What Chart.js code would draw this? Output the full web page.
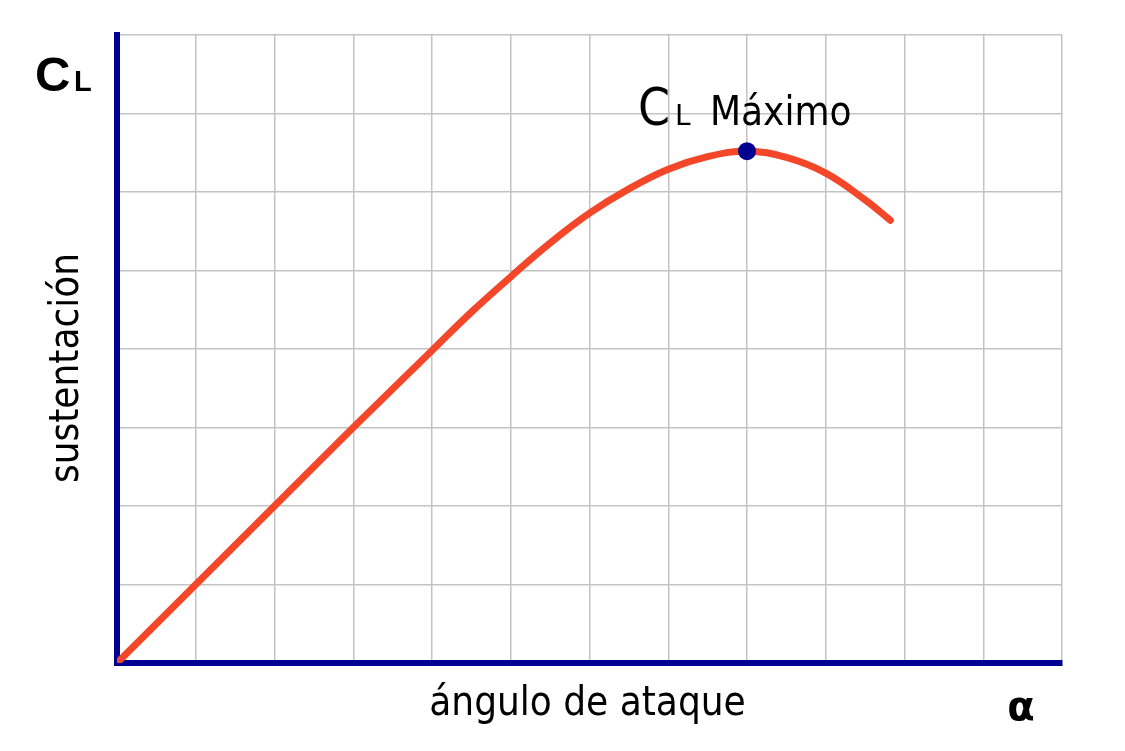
<!DOCTYPE html>
<html>
<head>
<meta charset="utf-8">
<title>CL vs ángulo de ataque</title>
<script src="https://cdn.jsdelivr.net/npm/chart.js@4.4.1/dist/chart.umd.min.js"></script>
<style>
  html, body { margin: 0; padding: 0; background: #ffffff; }
  #displayWindow { display: block; }
</style>
</head>
<body>
<canvas id="displayWindow" width="1125" height="751"></canvas>
<script>
const canvas = document.getElementById('displayWindow').getContext('2d');

// curve (grid units)
const anguloValues = [0, 1, 2, 3, 4, 4.5, 5, 5.5, 6, 6.5, 7, 7.5, 8, 8.5, 9, 9.5, 9.82];
const sustentacionValues = [0, 1, 2, 3, 3.98, 4.47, 4.92, 5.35, 5.73, 6.04, 6.29, 6.45, 6.52, 6.44, 6.24, 5.9, 5.64];

// CL maximo marker
const maximoAngulo = [8];
const maximoValue = [6.52];

const xMax = 12;
const yMax = 8;

const axisBlue = "#000090";
const gridGray = "#c3c3c3";
const curveRed = "#f4472a";

const condensed = '"DejaVu Sans Condensed", "DejaVu Sans", sans-serif';

function toPoints(xs, ys) {
  return xs.map((x, i) => ({ x: x, y: ys[i] }));
}

const labelPlugin = {
  id: 'labelPlugin',
  afterDraw(chart) {
    const ctx = chart.ctx;
    const area = chart.chartArea;
    const xScale = chart.scales.x;
    const yScale = chart.scales.y;

    ctx.save();
    ctx.fillStyle = "#000000";
    ctx.textBaseline = "alphabetic";
    ctx.textAlign = "left";

    // CL at the top of the y axis
    ctx.font = 'bold 49px "Liberation Sans", Arial, sans-serif';
    ctx.fillText("C", area.left - 82, 91);
    ctx.font = 'bold 29px "Liberation Sans", Arial, sans-serif';
    ctx.fillText("L", area.left - 43, 91);

    // y axis title
    ctx.save();
    ctx.translate(area.left - 39, 368);
    ctx.rotate(-Math.PI / 2);
    ctx.textAlign = "center";
    ctx.font = '40px ' + condensed;
    ctx.fillText("sustentación", 0, 0);
    ctx.restore();

    // x axis title
    ctx.textAlign = "center";
    ctx.font = '40px ' + condensed;
    ctx.fillText("ángulo de ataque", (area.left + area.right) / 2 - 2, 715);

    ctx.font = 'bold 40px "DejaVu Sans", sans-serif';
    ctx.fillText("α", area.right - 41, 720);

    // CL Maximo label over the peak
    const px = xScale.getPixelForValue(maximoAngulo[0]);
    const py = yScale.getPixelForValue(maximoValue[0]);
    ctx.textAlign = "left";
    ctx.font = '51px ' + condensed;
    ctx.fillText("C", px - 109, py - 26);
    ctx.font = '28px "DejaVu Sans", sans-serif';
    ctx.fillText("L", px - 72, py - 26);
    ctx.font = '40px ' + condensed;
    ctx.fillText("Máximo", px - 37, py - 26);

    ctx.restore();
  }
};

const liftChart = new Chart(canvas, {
  type: 'line',
  data: {
    datasets: [
      {
        label: "CL Máximo",
        data: toPoints(maximoAngulo, maximoValue),
        showLine: false,
        pointRadius: 9,
        pointHoverRadius: 9,
        pointBackgroundColor: axisBlue,
        pointBorderWidth: 0,
        order: 0
      },
      {
        label: "Sustentación",
        data: toPoints(anguloValues, sustentacionValues),
        borderColor: curveRed,
        borderWidth: 7,
        borderCapStyle: 'round',
        borderJoinStyle: 'round',
        pointRadius: 0,
        tension: 0.4,
        fill: false,
        order: 1
      }
    ]
  },
  options: {
    responsive: false,
    animation: false,
    layout: {
      padding: { left: 117, right: 63, top: 35, bottom: 88 }
    },
    scales: {
      x: {
        type: 'linear',
        min: 0,
        max: xMax,
        ticks: { stepSize: 1, display: false },
        grid: { color: gridGray, lineWidth: 1.5, drawTicks: false },
        border: { color: axisBlue, width: 6 }
      },
      y: {
        type: 'linear',
        min: 0,
        max: yMax,
        ticks: { stepSize: 1, display: false },
        grid: { color: gridGray, lineWidth: 1.5, drawTicks: false },
        border: { color: axisBlue, width: 6 }
      }
    },
    plugins: {
      legend: { display: false },
      tooltip: { enabled: false }
    }
  },
  plugins: [labelPlugin]
});
</script>
</body>
</html>
